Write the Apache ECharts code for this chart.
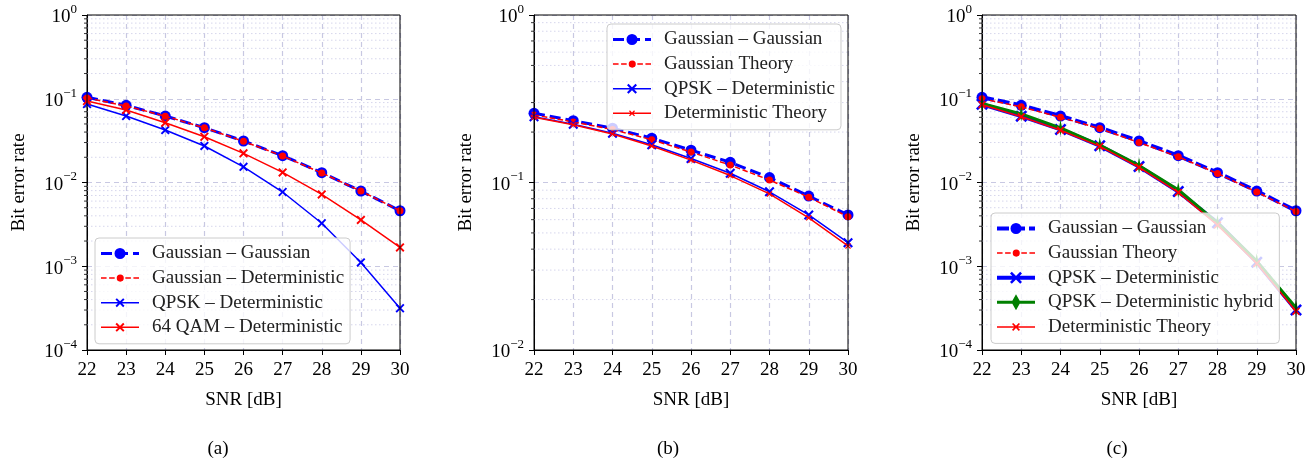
<!DOCTYPE html>
<html>
<head>
<meta charset="utf-8">
<script src="https://cdn.jsdelivr.net/npm/echarts@6/dist/echarts.min.js"></script>
<style>html,body{margin:0;padding:0;background:#fff;}#c{width:1315px;height:461px;}</style>
</head>
<body>
<div id="c"></div>
<script>
// ---------- data ----------
const snr = [22, 23, 24, 25, 26, 27, 28, 29, 30];

// panel (a)
const aGaussGauss = [0.104, 0.0835, 0.0622, 0.0451, 0.0313, 0.0209, 0.0131, 0.0079, 0.0046];
const aGaussDet   = [0.102, 0.082, 0.062, 0.045, 0.031, 0.0207, 0.0130, 0.0079, 0.0046];
const aQpskDet    = [0.0866, 0.0622, 0.0423, 0.0273, 0.0154, 0.0077, 0.00326, 0.00111, 0.000315];
const aQam64Det   = [0.094, 0.0734, 0.0518, 0.0352, 0.0223, 0.0132, 0.0072, 0.00357, 0.00168];

// panel (b)
const bGaussGauss = [0.259, 0.234, 0.211, 0.184, 0.156, 0.132, 0.107, 0.083, 0.064];
const bGaussTheory= [0.253, 0.230, 0.207, 0.180, 0.152, 0.127, 0.1035, 0.0816, 0.0625];
const bQpskDet    = [0.247, 0.223, 0.197, 0.168, 0.139, 0.1135, 0.088, 0.064, 0.0437];
const bDetTheory  = [0.245, 0.221, 0.195, 0.165, 0.136, 0.110, 0.0855, 0.0615, 0.0418];

// panel (c)
const cGaussGauss = [0.104, 0.0835, 0.0622, 0.0451, 0.0313, 0.0209, 0.0131, 0.0079, 0.0046];
const cGaussTheory= [0.100, 0.080, 0.060, 0.044, 0.030, 0.0203, 0.0128, 0.0077, 0.0045];
const cQpskDet    = [0.086, 0.062, 0.043, 0.0275, 0.0155, 0.0078, 0.0033, 0.00112, 0.00030];
const cQpskHybrid = [0.088, 0.066, 0.045, 0.028, 0.016, 0.0082, 0.0033, 0.00115, 0.00032];
const cDetTheory  = [0.085, 0.061, 0.042, 0.027, 0.0152, 0.0076, 0.0031, 0.00108, 0.00029];

const panelLabels = ['(a)', '(b)', '(c)'];
const xName = 'SNR [dB]';
const yName = 'Bit error rate';

// ---------- helpers ----------
const FONT = 'Liberation Serif';
const BLUE = '#0000ff', RED = '#ff0000', GREEN = '#008000';
const X_PATH = 'path://M0,1.5L1.5,0L5,3.5L8.5,0L10,1.5L6.5,5L10,8.5L8.5,10L5,6.5L1.5,10L0,8.5L3.5,5Z';
const DIAMOND_PATH = 'path://M5,0L8.5,10L5,20L1.5,10Z';

function pairs(ys) { return snr.map((x, i) => [x, ys[i]]); }
function minorValues(minExp, maxExp) {
  const out = [];
  for (let e = minExp; e < maxExp; e++) for (let k = 2; k <= 9; k++) out.push([k * Math.pow(10, e)]);
  return out;
}
const ZW = ['', '\u200b', '\u200b\u200b'];

// legend icon: line (optionally dashed) + marker, as one filled path
const LW_ICON = 38;
function f(n) { return (Math.round(n * 100) / 100).toString(); }
function iconPath(lw, dash, sym, sw, sh) {
  const H = Math.max(sh, lw);
  const c = H / 2, W = LW_ICON;
  let p = '';
  const rect = (x0, x1) => {
    p += 'M' + f(x0) + ',' + f(c - lw / 2) + 'L' + f(x1) + ',' + f(c - lw / 2) +
         'L' + f(x1) + ',' + f(c + lw / 2) + 'L' + f(x0) + ',' + f(c + lw / 2) + 'Z';
  };
  if (!dash) rect(0, W);
  else { let x = 0; while (x < W) { rect(x, Math.min(x + dash[0], W)); x += dash[0] + dash[1]; } }
  const cx = W / 2;
  if (sym === 'circle') {
    const r = sw / 2;
    p += 'M' + f(cx + r) + ',' + f(c) + 'A' + f(r) + ',' + f(r) + ' 0 1 1 ' + f(cx - r) + ',' + f(c) +
         'A' + f(r) + ',' + f(r) + ' 0 1 1 ' + f(cx + r) + ',' + f(c) + 'Z';
  } else if (sym === 'x') {
    const pts = [[0,1.5],[1.5,0],[5,3.5],[8.5,0],[10,1.5],[6.5,5],[10,8.5],[8.5,10],[5,6.5],[1.5,10],[0,8.5],[3.5,5]];
    pts.forEach((q, k) => {
      const x = cx - sw / 2 + q[0] * sw / 10, y = c - sh / 2 + q[1] * sh / 10;
      p += (k === 0 ? 'M' : 'L') + f(x) + ',' + f(y);
    });
    p += 'Z';
  } else if (sym === 'diamond') {
    p += 'M' + f(cx) + ',' + f(c - sh / 2) + 'L' + f(cx + sw / 2) + ',' + f(c) + 'L' + f(cx) + ',' + f(c + sh / 2) +
         'L' + f(cx - sw / 2) + ',' + f(c) + 'Z';
  }
  return 'path://' + p;
}

const grids = [
  { left: 87, top: 15, width: 313, height: 335 },
  { left: 534, top: 15, width: 314, height: 335 },
  { left: 982, top: 15, width: 314, height: 335 }
];
const yRanges = [[-4, 0], [-2, 0], [-4, 0]];

function yAxisFor(i) {
  const r = yRanges[i];
  return {
    type: 'log', logBase: 10, gridIndex: i,
    min: Math.pow(10, r[0]), max: Math.pow(10, r[1]),
    name: yName, nameLocation: 'middle', nameGap: 58,
    nameTextStyle: { fontFamily: FONT, fontSize: 19, color: '#000' },
    axisLine: { show: true, lineStyle: { color: '#000', width: 1 } },
    axisTick: { show: true, inside: false, length: 5, lineStyle: { color: '#000' } },
    axisLabel: {
      fontFamily: FONT, fontSize: 19, color: '#000', margin: 10,
      formatter: v => {
        const e = Math.round(Math.log10(v));
        const s = e < 0 ? '\u2212' + (-e) : '' + e;
        return '{b|10}{s|' + s + '}';
      },
      rich: {
        b: { fontFamily: FONT, fontSize: 19, color: '#000', verticalAlign: 'bottom', lineHeight: 24 },
        s: { fontFamily: FONT, fontSize: 13, color: '#000', verticalAlign: 'top', lineHeight: 24 }
      }
    },
    splitLine: { show: true, lineStyle: { color: '#c8c8e2', width: 1.2, type: [5, 4] } },
    minorTick: { show: false }, minorSplitLine: { show: false }
  };
}
function xAxisFor(i) {
  return {
    type: 'value', gridIndex: i, min: 22, max: 30, interval: 1,
    name: xName, nameLocation: 'middle', nameGap: 41,
    nameTextStyle: { fontFamily: FONT, fontSize: 19, color: '#000' },
    axisLine: { show: true, onZero: false, lineStyle: { color: '#000', width: 1 } },
    axisTick: { show: true, inside: false, length: 5, lineStyle: { color: '#000' } },
    axisLabel: { fontFamily: FONT, fontSize: 19, color: '#000', margin: 11 },
    splitLine: { show: true, lineStyle: { color: '#c8c8e2', width: 1.2, type: [5, 4] } }
  };
}
function minorSeries(i) {
  const r = yRanges[i];
  return {
    type: 'custom', xAxisIndex: i, yAxisIndex: i, silent: true, clip: false, z: 1,
    data: minorValues(r[0], r[1]),
    encode: { y: 0 },
    renderItem: (params, api) => {
      const v = api.value(0);
      const p1 = api.coord([22, v]);
      const p2 = api.coord([30, v]);
      return {
        type: 'group', children: [
          { type: 'line', shape: { x1: p1[0], y1: p1[1], x2: p2[0], y2: p2[1] },
            style: { stroke: '#d6d6ec', lineWidth: 1, lineDash: [1.5, 2.5] } },
          { type: 'line', shape: { x1: p1[0] - 3, y1: p1[1], x2: p1[0], y2: p1[1] },
            style: { stroke: '#000', lineWidth: 0.8 } }
        ]
      };
    }
  };
}
function line(i, name, ys, color, width, dash, symbol, size, z) {
  return {
    type: 'line', name: name + ZW[i], xAxisIndex: i, yAxisIndex: i,
    data: pairs(ys), color: color, z: z || 2,
    symbol: symbol, symbolSize: size, symbolKeepAspect: true, showSymbol: true,
    itemStyle: { color: color, opacity: 1 },
    lineStyle: { color: color, width: width, type: dash || 'solid' },
    emphasis: { disabled: true }, animation: false, clip: true
  };
}

const series = [
  minorSeries(0), minorSeries(1), minorSeries(2),
  // (a)
  line(0, 'Gaussian \u2013 Gaussian', aGaussGauss, BLUE, 3, [11, 5], 'circle', 11, 3),
  line(0, 'Gaussian \u2013 Deterministic', aGaussDet, RED, 1.5, [5.5, 2.5], 'circle', 7, 4),
  line(0, 'QPSK \u2013 Deterministic', aQpskDet, BLUE, 1.5, null, X_PATH, 9, 5),
  line(0, '64 QAM \u2013 Deterministic', aQam64Det, RED, 1.5, null, X_PATH, 9, 6),
  // (b)
  line(1, 'Gaussian \u2013 Gaussian', bGaussGauss, BLUE, 3, [11, 5], 'circle', 11, 3),
  line(1, 'Gaussian Theory', bGaussTheory, RED, 1.5, [5.5, 2.5], 'circle', 7, 4),
  line(1, 'QPSK \u2013 Deterministic', bQpskDet, BLUE, 1.5, null, X_PATH, 10, 5),
  line(1, 'Deterministic Theory', bDetTheory, RED, 1.5, null, X_PATH, 6, 6),
  // (c)
  line(2, 'Gaussian \u2013 Gaussian', cGaussGauss, BLUE, 4, [12, 4], 'circle', 11, 3),
  line(2, 'Gaussian Theory', cGaussTheory, RED, 1.5, [5.5, 2.5], 'circle', 7, 4),
  line(2, 'QPSK \u2013 Deterministic', cQpskDet, BLUE, 4, null, X_PATH, 12, 5),
  line(2, 'QPSK \u2013 Deterministic hybrid', cQpskHybrid, GREEN, 3, null, DIAMOND_PATH, [9, 16], 6),
  line(2, 'Deterministic Theory', cDetTheory, RED, 1.5, null, X_PATH, 8, 7)
];

// legend entries: [name, color, lineWidth, dash, marker, markerW, markerH]
const legendA = [
  ['Gaussian \u2013 Gaussian', BLUE, 3, [11, 5], 'circle', 11, 11],
  ['Gaussian \u2013 Deterministic', RED, 1.5, [5.5, 2.5], 'circle', 7, 7],
  ['QPSK \u2013 Deterministic', BLUE, 1.5, null, 'x', 9, 9],
  ['64 QAM \u2013 Deterministic', RED, 1.5, null, 'x', 9, 9]
];
const legendB = [
  ['Gaussian \u2013 Gaussian', BLUE, 3, [11, 5], 'circle', 11, 11],
  ['Gaussian Theory', RED, 1.5, [5.5, 2.5], 'circle', 7, 7],
  ['QPSK \u2013 Deterministic', BLUE, 1.5, null, 'x', 10, 10],
  ['Deterministic Theory', RED, 1.5, null, 'x', 6, 6]
];
const legendC = [
  ['Gaussian \u2013 Gaussian', BLUE, 4, [12, 4], 'circle', 11, 11],
  ['Gaussian Theory', RED, 1.5, [5.5, 2.5], 'circle', 7, 7],
  ['QPSK \u2013 Deterministic', BLUE, 4, null, 'x', 12, 12],
  ['QPSK \u2013 Deterministic hybrid', GREEN, 3, null, 'diamond', 9, 16],
  ['Deterministic Theory', RED, 1.5, null, 'x', 8, 8]
];

const legendBase = {
  orient: 'vertical', backgroundColor: 'rgba(255,255,255,0.8)',
  borderColor: '#cccccc', borderWidth: 1, borderRadius: 4,
  padding: [6, 6, 7, 6], itemGap: 5.6, itemWidth: LW_ICON, itemHeight: 18,
  symbolKeepAspect: true,
  textStyle: { fontFamily: FONT, fontSize: 19, color: '#222', padding: [0, 0, 0, 8] },
  selectedMode: false, z: 10
};
function legendData(list, i) {
  return list.map(e => ({
    name: e[0] + ZW[i],
    icon: iconPath(e[2], e[3], e[4], e[5], e[6]),
    itemStyle: { color: e[1], borderWidth: 0, opacity: 1 }
  }));
}
const legends = [
  Object.assign({}, legendBase, { left: 95, top: 238, data: legendData(legendA, 0) }),
  Object.assign({}, legendBase, { left: 607, top: 24, data: legendData(legendB, 1) }),
  Object.assign({}, legendBase, { left: 991, top: 213, data: legendData(legendC, 2) })
];

const titleCenters = [213, 663, 1112];
const option = {
  backgroundColor: '#fff',
  animation: false,
  title: panelLabels.map((t, i) => ({
    text: t, left: titleCenters[i], top: 435, textAlign: 'center',
    textStyle: { fontFamily: FONT, fontSize: 19, fontWeight: 'normal', color: '#000' }
  })),
  grid: grids.map(g => Object.assign({ show: true, z: 9, borderColor: '#000', borderWidth: 1, backgroundColor: 'transparent' }, g)),
  xAxis: [0, 1, 2].map(xAxisFor),
  yAxis: [0, 1, 2].map(yAxisFor),
  legend: legends,
  series: series
};
const chart = echarts.init(document.getElementById('c'), null, { renderer: 'canvas' });
chart.setOption(option);
</script>
</body>
</html>
